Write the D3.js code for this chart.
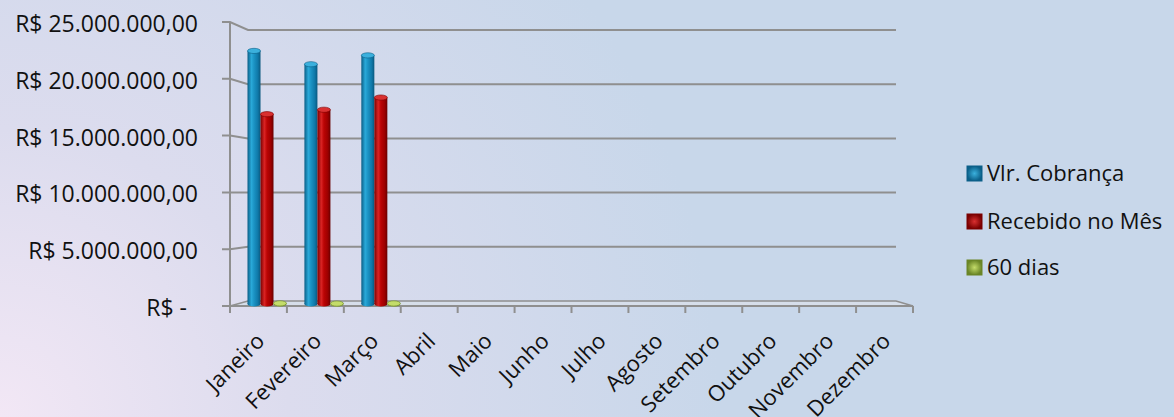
<!DOCTYPE html>
<html>
<head>
<meta charset="utf-8">
<script src="https://cdn.jsdelivr.net/npm/d3@7"></script>
<style>
  html, body { margin: 0; padding: 0; }
  svg { display: block; }
  text { font-family: "Open Sans", sans-serif; fill: #111; }
</style>
</head>
<body>
<svg id="chart" width="1174" height="417"></svg>
<script>
// data
var months = ["Janeiro", "Fevereiro", "Março", "Abril", "Maio", "Junho",
              "Julho", "Agosto", "Setembro", "Outubro", "Novembro", "Dezembro"];
var seriesNames = ["Vlr. Cobrança", "Recebido no Mês", "60 dias"];
var vlrCobranca = [22800000, 21600000, 22400000, null, null, null, null, null, null, null, null, null];
var recebidoMes = [17100000, 17500000, 18600000, null, null, null, null, null, null, null, null, null];
var dias60 = [60000, 40000, 50000, null, null, null, null, null, null, null, null, null];
var yTicks = [0, 5000000, 10000000, 15000000, 20000000, 25000000];

var svg = d3.select("#chart"),
    W = +svg.attr("width"),
    H = +svg.attr("height");

var defs = svg.append("defs");

// background
var bg = defs.append("radialGradient").attr("id", "bg")
  .attr("gradientUnits", "userSpaceOnUse")
  .attr("cx", 0).attr("cy", H).attr("r", 720);
bg.append("stop").attr("offset", "0%").attr("stop-color", "#f2e7f5");
bg.append("stop").attr("offset", "40%").attr("stop-color", "#dcdcee");
bg.append("stop").attr("offset", "100%").attr("stop-color", "#c8d7ea");
svg.append("rect").attr("width", W).attr("height", H).attr("fill", "url(#bg)");

// 3d frame: front plane and back plane
var front = {x0: 230, x1: 913, y0: 306, y1: 22};
var back = {x0: 248, x1: 896, y0: 301, y1: 30};

var x = d3.scaleBand().domain(months).range([front.x0, front.x1]);
var xSub = d3.scaleBand().domain(seriesNames).range([17.5, 56.5]);
var yFront = d3.scaleLinear().domain([0, 25000000]).range([front.y0, front.y1]);
var yBack = d3.scaleLinear().domain([0, 25000000]).range([back.y0, back.y1]);
var yBar = d3.scaleLinear().domain([0, 25000000]).range([304, 26.5]);

var gridColor = "#8f8f8f";

// floor
svg.append("path")
  .attr("d", "M" + front.x0 + "," + front.y0 + "L" + back.x0 + "," + back.y0 +
             "L" + back.x1 + "," + back.y0 + "L" + front.x1 + "," + front.y0 + "Z")
  .attr("fill", "#d6deea").attr("stroke", gridColor).attr("stroke-width", 1.5);

// gridlines along left wall and back wall
svg.append("g").selectAll("path")
  .data(yTicks.slice(1))
  .enter().append("path")
  .attr("d", function(d) {
    return "M" + (front.x0 - 8) + "," + yFront(d) + "L" + front.x0 + "," + yFront(d) +
           "L" + back.x0 + "," + yBack(d) + "L" + back.x1 + "," + yBack(d);
  })
  .attr("fill", "none").attr("stroke", gridColor).attr("stroke-width", 2);

// zero tick
svg.append("line")
  .attr("x1", front.x0 - 8).attr("x2", front.x0)
  .attr("y1", yFront(0)).attr("y2", yFront(0))
  .attr("stroke", gridColor).attr("stroke-width", 2);

// left vertical axis line
svg.append("line")
  .attr("x1", front.x0).attr("x2", front.x0)
  .attr("y1", yFront(25000000)).attr("y2", yFront(0))
  .attr("stroke", gridColor).attr("stroke-width", 2);

// front floor edge + category ticks
svg.append("line")
  .attr("x1", front.x0).attr("x2", front.x1)
  .attr("y1", front.y0).attr("y2", front.y0)
  .attr("stroke", gridColor).attr("stroke-width", 2);

svg.append("g").selectAll("line")
  .data(d3.range(months.length + 1))
  .enter().append("line")
  .attr("x1", function(i) { return front.x0 + i * x.step(); })
  .attr("x2", function(i) { return front.x0 + i * x.step(); })
  .attr("y1", front.y0).attr("y2", front.y0 + 7)
  .attr("stroke", gridColor).attr("stroke-width", 2);

// y labels
function fmt(d) {
  if (d === 0) return "R$ -";
  return "R$ " + d3.format(",.2f")(d).replace(/,/g, "#").replace(".", ",").replace(/#/g, ".");
}
svg.append("g").selectAll("text")
  .data(yTicks)
  .enter().append("text")
  .attr("x", function(d) { return d === 0 ? 187 : 198; })
  .attr("y", function(d) { return yFront(d) + 2; })
  .attr("dy", "0.35em")
  .attr("text-anchor", "end")
  .style("font-size", "23px")
  .text(fmt);

// x labels, rotated
svg.append("g").selectAll("text")
  .data(months)
  .enter().append("text")
  .attr("transform", function(d) {
    return "translate(" + (x(d) + x.bandwidth() / 2 + 2) + ",337) rotate(-45)";
  })
  .attr("dy", "0.35em")
  .attr("text-anchor", "end")
  .style("font-size", "22px")
  .text(function(d) { return d; });

// cylinder gradients
var palettes = {
  "Vlr. Cobrança": {stops: ["#0a5e86", "#2aa9d9", "#1b93c4", "#0f78a8", "#0a587e"], cap: "#3bb0dd", dark: "#0b5f88"},
  "Recebido no Mês": {stops: ["#7c0000", "#d92424", "#bb0404", "#9c0000", "#680000"], cap: "#d93030", dark: "#7a0000"},
  "60 dias": {stops: ["#6f8a2a", "#b8d35a", "#9fbf40", "#86a532", "#617a22"], cap: "#c4dc6a", dark: "#6a8526"}
};
seriesNames.forEach(function(s, i) {
  var g = defs.append("linearGradient").attr("id", "cyl" + i)
    .attr("x1", "0%").attr("x2", "100%").attr("y1", "0%").attr("y2", "0%");
  [0, 0.3, 0.5, 0.8, 1].forEach(function(o, k) {
    g.append("stop").attr("offset", o).attr("stop-color", palettes[s].stops[k]);
  });
  var lg = defs.append("radialGradient").attr("id", "leg" + i);
  lg.append("stop").attr("offset", "0%").attr("stop-color", palettes[s].cap);
  lg.append("stop").attr("offset", "100%").attr("stop-color", palettes[s].dark);
});

var seriesData = [vlrCobranca, recebidoMes, dias60];

var bars = svg.append("g");
seriesNames.forEach(function(s, si) {
  var vals = months.map(function(m, i) { return {month: m, value: seriesData[si][i]}; })
    .filter(function(d) { return d.value != null; });
  var w = xSub.bandwidth();
  var ry = 2.6;
  var g = bars.selectAll(".bar" + si)
    .data(vals)
    .enter().append("g")
    .attr("class", "bar" + si)
    .attr("transform", function(d) { return "translate(" + (x(d.month) + xSub(s)) + ",0)"; });

  g.append("ellipse")
    .attr("cx", w / 2).attr("cy", yBar(0))
    .attr("rx", w / 2).attr("ry", ry)
    .attr("fill", "url(#cyl" + si + ")");
  g.append("rect")
    .attr("x", 0).attr("width", w)
    .attr("y", function(d) { return yBar(d.value); })
    .attr("height", function(d) { return yBar(0) - yBar(d.value); })
    .attr("fill", "url(#cyl" + si + ")");
  g.append("ellipse")
    .attr("cx", w / 2).attr("cy", function(d) { return yBar(d.value); })
    .attr("rx", w / 2).attr("ry", ry)
    .attr("fill", palettes[s].cap)
    .attr("stroke", palettes[s].dark).attr("stroke-width", 0.6);
});

// legend
var legend = svg.append("g").selectAll("g")
  .data(seriesNames)
  .enter().append("g")
  .attr("transform", function(d, i) { return "translate(967," + [173.5, 221.5, 267.5][i] + ")"; });

legend.append("rect")
  .attr("x", 0).attr("y", -7.5)
  .attr("width", 15).attr("height", 15)
  .attr("fill", function(d, i) { return "url(#leg" + i + ")"; })
  .attr("stroke", function(d) { return palettes[d].dark; })
  .attr("stroke-width", 1);

legend.append("text")
  .attr("x", 20).attr("y", 0)
  .attr("dy", "0.35em")
  .style("font-size", "22px")
  .text(function(d) { return d; });
</script>
</body>
</html>
